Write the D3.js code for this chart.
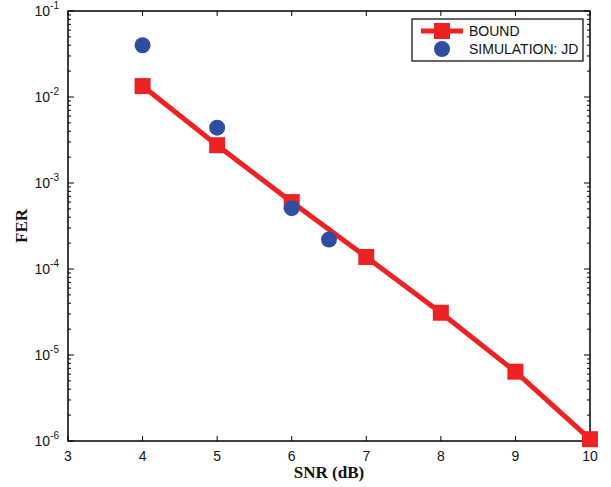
<!DOCTYPE html>
<html>
<head>
<meta charset="utf-8">
<script src="https://cdn.jsdelivr.net/npm/d3@7"></script>
<style>
body { margin: 0; background: #fff; }
text { font-family: "Liberation Sans", Arial, sans-serif; fill: #111; }
text.lab { font-family: "Liberation Serif", "Times New Roman", serif; font-weight: bold; }
</style>
</head>
<body>
<div id="chart"></div>
<script>
const boundSnr = [4, 5, 6, 7, 8, 9, 10];
const boundFer = [1.34e-2, 2.75e-3, 6.0e-4, 1.38e-4, 3.1e-5, 6.4e-6, 1.05e-6];
const simSnr = [4, 5, 6, 6.5];
const simFer = [4.0e-2, 4.4e-3, 5.1e-4, 2.2e-4];
const xTicks = [3, 4, 5, 6, 7, 8, 9, 10];
const yExps = [-1, -2, -3, -4, -5, -6];

const width = 611, height = 487;
const m = { left: 68, right: 21, top: 11, bottom: 46 };

const svg = d3.select("#chart").append("svg")
    .attr("width", width)
    .attr("height", height);

const x = d3.scaleLinear().domain([3, 10]).range([m.left, width - m.right]);
const y = d3.scaleLog().domain([1e-6, 1e-1]).range([height - m.bottom, m.top]);

// minor ticks for the log axis
const minor = [];
for (let e = -6; e < -1; e++) {
    for (let k = 2; k <= 9; k++) minor.push(k * Math.pow(10, e));
}

const g = svg.append("g");
const x0 = m.left, x1 = width - m.right, y0 = m.top, y1 = height - m.bottom;

// ticks (inward)
xTicks.forEach(t => {
    g.append("line").attr("x1", x(t)).attr("x2", x(t)).attr("y1", y1).attr("y2", y1 - 5).attr("stroke", "#000");
    g.append("line").attr("x1", x(t)).attr("x2", x(t)).attr("y1", y0).attr("y2", y0 + 5).attr("stroke", "#000");
    g.append("text").attr("x", x(t)).attr("y", y1 + 20).attr("text-anchor", "middle")
        .attr("font-size", 14).text(t);
});
yExps.forEach(e => {
    const yy = y(Math.pow(10, e));
    g.append("line").attr("x1", x0).attr("x2", x0 + 6).attr("y1", yy).attr("y2", yy).attr("stroke", "#000");
    g.append("line").attr("x1", x1).attr("x2", x1 - 6).attr("y1", yy).attr("y2", yy).attr("stroke", "#000");
    const t = g.append("text").attr("x", x0 - 9).attr("y", yy + 5).attr("text-anchor", "end").attr("font-size", 14);
    t.append("tspan").text("10");
    t.append("tspan").attr("dy", -7).attr("font-size", 10).text(e);
});
minor.forEach(v => {
    const yy = y(v);
    g.append("line").attr("x1", x0).attr("x2", x0 + 3).attr("y1", yy).attr("y2", yy).attr("stroke", "#000");
    g.append("line").attr("x1", x1).attr("x2", x1 - 3).attr("y1", yy).attr("y2", yy).attr("stroke", "#000");
});

g.append("rect").attr("x", x0).attr("y", y0).attr("width", x1 - x0).attr("height", y1 - y0)
    .attr("fill", "none").attr("stroke", "#000").attr("stroke-width", 1.5);

// bound line
const red = "#ee2222", blue = "#2f4ea1";
const boundData = boundSnr.map((s, i) => [s, boundFer[i]]);
svg.append("path").datum(boundData)
    .attr("d", d3.line().x(d => x(d[0])).y(d => y(d[1])))
    .attr("fill", "none").attr("stroke", red).attr("stroke-width", 5);
svg.selectAll("rect.bound").data(boundData).enter().append("rect")
    .attr("class", "bound")
    .attr("x", d => x(d[0]) - 8).attr("y", d => y(d[1]) - 8)
    .attr("width", 16).attr("height", 16).attr("fill", red);

const simData = simSnr.map((s, i) => [s, simFer[i]]);
svg.selectAll("circle.sim").data(simData).enter().append("circle")
    .attr("class", "sim")
    .attr("cx", d => x(d[0])).attr("cy", d => y(d[1]))
    .attr("r", 8).attr("fill", blue);

// axis labels
svg.append("text").attr("class", "lab").attr("x", (x0 + x1) / 2).attr("y", 478).attr("text-anchor", "middle")
    .attr("font-size", 17).text("SNR (dB)");
svg.append("text").attr("class", "lab").attr("transform", `translate(27,${(y0 + y1) / 2}) rotate(-90)`)
    .attr("text-anchor", "middle")
    .attr("font-size", 17).text("FER");

// legend
const lg = svg.append("g");
lg.append("rect").attr("x", 412).attr("y", 19).attr("width", 171).attr("height", 42)
    .attr("fill", "#fff").attr("stroke", "#000").attr("stroke-width", 1.2);
lg.append("line").attr("x1", 421).attr("x2", 463).attr("y1", 31).attr("y2", 31)
    .attr("stroke", red).attr("stroke-width", 5);
lg.append("rect").attr("x", 434).attr("y", 23).attr("width", 16).attr("height", 16).attr("fill", red);
lg.append("circle").attr("cx", 442).attr("cy", 49).attr("r", 8).attr("fill", blue);
lg.append("text").attr("x", 469).attr("y", 36).attr("font-size", 14).text("BOUND");
lg.append("text").attr("x", 469).attr("y", 54).attr("font-size", 14).text("SIMULATION: JD");
</script>
</body>
</html>
